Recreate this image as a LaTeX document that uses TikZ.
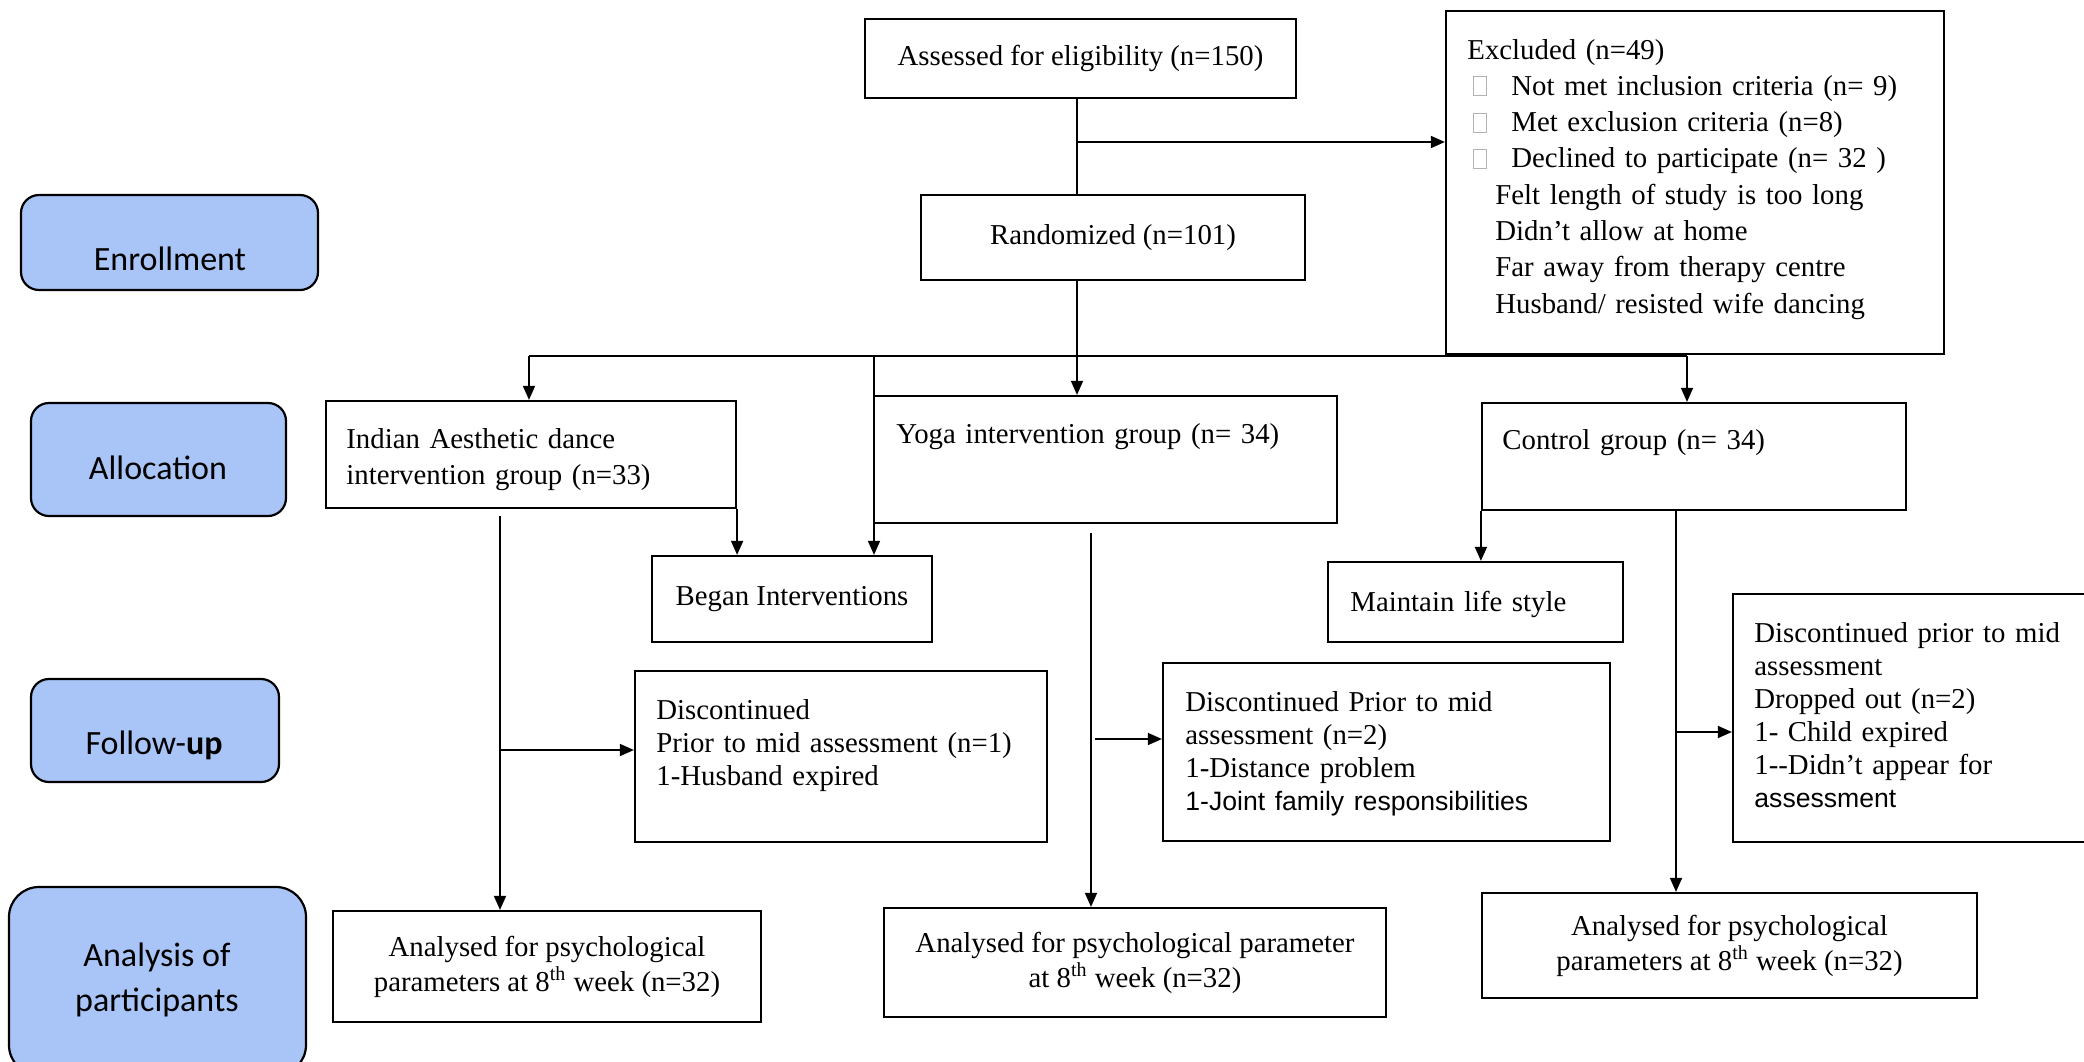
\documentclass[tikz,border=0pt]{standalone}
\usepackage{fontspec}
\setmainfont{Liberation Serif}
\newfontfamily\labfont{Carlito}
\newfontfamily\arialfont{Liberation Sans}
\usetikzlibrary{arrows.meta}
\definecolor{labblue}{HTML}{A9C5F7}
\newcommand{\gbox}{{\color{black!30}\setlength{\fboxsep}{0pt}\setlength{\fboxrule}{0.5pt}\fbox{\rule{0pt}{9pt}\hspace{6pt}}}}
\newcommand{\ar}[1]{{\arialfont\fontsize{13.3}{16.5}\selectfont #1}}
\begin{document}
\begin{tikzpicture}[x=0.5pt,y=-0.5pt,
  box/.style={draw, line width=1.1pt, inner sep=0pt, font={\fontsize{14.4}{17.5}\selectfont}, align=center},
  lab/.style={draw, line width=1.1pt, fill=labblue, rounded corners=9pt, inner sep=0pt},
  labtext/.style={font={\labfont\fontsize{17}{22.5}\selectfont}, align=center, inner sep=0pt},
  txt/.style={inner sep=0pt, anchor=base west, align=left, text width=240pt, font={\fontsize{14.4}{16.5}\selectfont}},
  arr/.style={line width=0.8pt, -{Triangle[length=7pt,width=6pt]}},
  conn/.style={line width=0.8pt}]
\useasboundingbox (0,0) rectangle (2084,1061);

% stage labels
\node[lab, minimum width=148.5pt, minimum height=47.5pt] (Lenr) at (169.5,242.5) {};
\node[labtext] (Tenr) at (170,259) {Enrollment};
\node[lab, minimum width=127.5pt, minimum height=56.5pt] (Lall) at (158.5,459.5) {};
\node[labtext] (Tall) at (158,468) {Allocation};
\node[lab, minimum width=124pt, minimum height=51.5pt] (Lfol) at (155,730.5) {};
\node[labtext] (Tfol) at (154,745) {Follow-\textbf{up}};
\node[lab, rounded corners=15pt, minimum width=148.5pt, minimum height=94pt] (Lana) at (157.5,981) {};
\node[labtext] (Tana) at (157,979.5) {Analysis of\\participants};

% main boxes
\node[box, minimum width=215.5pt, minimum height=39.5pt] (assess) at (1080.5,58.5) {Assessed for eligibility (n=150)};
\node[box, minimum width=192pt, minimum height=42.5pt] (rand) at (1113,237.5) {Randomized (n=101)};
\node[box, minimum width=249pt, minimum height=171.5pt] (excl) at (1695,182.5) {};
\node[txt, text width=245pt, font={\fontsize{14.4}{18.15}\selectfont}] (texcl) at (1467,59)
 {Excluded (n=49)\\
  \makebox[22pt][l]{\hspace*{3pt}\gbox}Not met inclusion criteria (n= 9)\\
  \makebox[22pt][l]{\hspace*{3pt}\gbox}Met exclusion criteria (n=8)\\
  \makebox[22pt][l]{\hspace*{3pt}\gbox}Declined to participate (n= 32 )\\
  \hspace*{14pt}Felt length of study is too long\\
  \hspace*{14pt}Didn’t allow at home\\
  \hspace*{14pt}Far away from therapy centre\\
  \hspace*{14pt}Husband/ resisted wife dancing};

\node[box, minimum width=205pt, minimum height=53.5pt] (indian) at (531,454.5) {};
\node[txt, text width=200pt, font={\fontsize{14.4}{18}\selectfont}] (tindian) at (346,448) {Indian Aesthetic dance\\intervention group (n=33)};
\node[box, minimum width=231.5pt, minimum height=63.5pt] (yoga) at (1105.5,459.5) {};
\node[txt] (tyoga) at (896,443) {Yoga intervention group (n= 34)};
\node[box, minimum width=212pt, minimum height=53.5pt] (control) at (1694,456.5) {};
\node[txt] (tcontrol) at (1502,449) {Control group (n= 34)};

\node[box, minimum width=140pt, minimum height=43pt] (began) at (792,599) {Began Interventions};
\node[box, minimum width=147.5pt, minimum height=40pt] (maintain) at (1475.5,602) {};
\node[txt] (tmaintain) at (1350,611) {Maintain life style};

\node[box, minimum width=206pt, minimum height=85.5pt] (disc1) at (841,756.5) {};
\node[txt] (tdisc1) at (656,719) {Discontinued\\Prior to mid assessment (n=1)\\1-Husband expired};
\node[box, minimum width=223.5pt, minimum height=89pt] (disc2) at (1386.5,752) {};
\node[txt] (tdisc2) at (1185,711) {Discontinued Prior to mid\\assessment (n=2)\\1-Distance problem\\\ar{1-Joint family responsibilities}};
\node[box, minimum width=181pt, minimum height=124pt] (disc3) at (1914,718) {};
\node[txt, text width=170pt] (tdisc3) at (1754,642) {Discontinued prior to mid\\assessment\\Dropped out (n=2)\\1- Child expired\\1-{}-Didn’t appear for\\\ar{assessment}};

\node[box, minimum width=214pt, minimum height=55.5pt] (a1) at (547,966.5) {Analysed for psychological\\parameters at 8\textsuperscript{th} week (n=32)};
\node[box, minimum width=251pt, minimum height=54.5pt] (a2) at (1135,962.5) {Analysed for psychological parameter\\at 8\textsuperscript{th} week (n=32)};
\node[box, minimum width=247.5pt, minimum height=52.5pt] (a3) at (1729.5,945.5) {Analysed for psychological\\parameters at 8\textsuperscript{th} week (n=32)};

% junction points
\coordinate (j1) at (1077,142);
\coordinate (hL) at (529,356);
\coordinate (hR) at (1687,356);
\coordinate (hY) at (874,356);
\coordinate (vI) at (500,516);
\coordinate (bI) at (500,750);
\coordinate (vY) at (1091,533);
\coordinate (bY) at (1095,739);
\coordinate (vC) at (1676,510);
\coordinate (bC) at (1676,732);

% connectors
\draw[conn] (assess.south -| j1) -- (rand.north -| j1);
\draw[arr] (j1) -- (j1 -| excl.west);
\draw[arr] (rand.south -| j1) -- (yoga.north -| j1);
\draw[conn] (hL) -- (hR);
\draw[arr] (hL) -- (hL |- indian.north);
\draw[arr] (hR) -- (hR |- control.north);
\draw[arr] (hY) -- (hY |- began.north);
\draw[arr] (indian.south east) -- (indian.south east |- began.north);
\draw[arr] (control.south west) -- (control.south west |- maintain.north);

\draw[arr] (vI) -- (vI |- a1.north);
\draw[arr] (bI) -- (bI -| disc1.west);
\draw[arr] (vY) -- (vY |- a2.north);
\draw[arr] (bY) -- (bY -| disc2.west);
\draw[arr] (vC) -- (vC |- a3.north);
\draw[arr] (bC) -- (bC -| disc3.west);
\end{tikzpicture}
\end{document}
